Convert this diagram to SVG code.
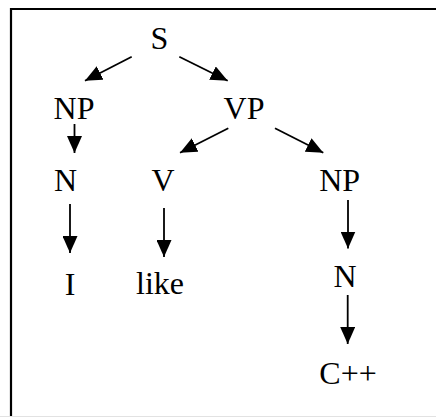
<svg xmlns="http://www.w3.org/2000/svg" width="436" height="417" viewBox="0 0 436 417">
<style>
text{font-family:"Liberation Serif","Times New Roman",serif;font-size:32px;fill:#000;text-anchor:middle}
.c line{stroke:#000;stroke-width:1.8;marker-end:url(#ah)}
</style>
<defs>
<marker id="ah" markerUnits="userSpaceOnUse" markerWidth="17" markerHeight="15" refX="17" refY="7.5" orient="auto" viewBox="0 0 17 15">
<path d="M0,0 L17,7.5 L0,15 Z" fill="#000"/>
</marker>
</defs>
<rect width="436" height="417" fill="#fff"/>
<path d="M11,417 V9 H436" fill="none" stroke="#000" stroke-width="2.2"/>
<line x1="0" y1="416.5" x2="436" y2="416.5" stroke="#e2e2e2" stroke-width="1"/>
<g class="c" id="connectors">
<line x1="131.7" y1="56.7" x2="85" y2="80.7"/>
<line x1="179.3" y1="56.7" x2="227.7" y2="80.7"/>
<line x1="74.5" y1="124" x2="74.5" y2="153"/>
<line x1="228.3" y1="128.3" x2="180" y2="152.7"/>
<line x1="275" y1="128.3" x2="323.3" y2="152.7"/>
<line x1="70" y1="204" x2="70" y2="253"/>
<line x1="164" y1="208" x2="164" y2="257"/>
<line x1="348" y1="200" x2="348" y2="248.5"/>
<line x1="347.7" y1="295" x2="347.7" y2="344"/>
</g>
<g id="S"><text x="159.5" y="49">S</text></g>
<g id="NP1"><text x="74" y="119">NP</text></g>
<g id="VP"><text x="244" y="119">VP</text></g>
<g id="N1"><text x="65.5" y="191">N</text></g>
<g id="V"><text x="163" y="191">V</text></g>
<g id="NP2"><text x="339.7" y="191">NP</text></g>
<g id="I"><text x="70" y="295">I</text></g>
<g id="like"><text x="160" y="294">like</text></g>
<g id="N2"><text x="345" y="287">N</text></g>
<g id="Cpp"><text x="348" y="384">C++</text></g>
</svg>
